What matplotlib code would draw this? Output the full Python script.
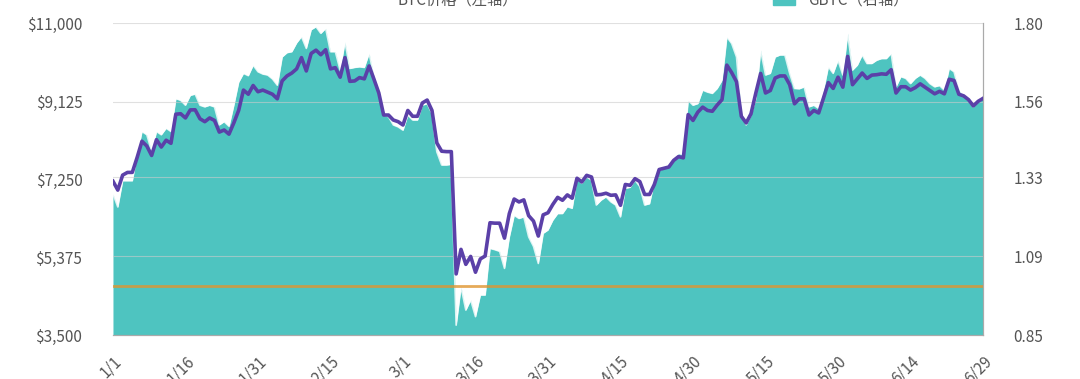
import matplotlib
matplotlib.use("Agg")
import matplotlib.pyplot as plt

plt.rcParams['font.family'] = ['Noto Sans CJK SC', 'DejaVu Sans']

# x axis: days since 1/1, ticks every 15 days
tick_labels = ['1/1', '1/16', '1/31', '2/15', '3/1', '3/16', '3/31',
               '4/15', '4/30', '5/15', '5/30', '6/14', '6/29']

# purple line, left axis ($)
price = [
    # Jan
    7200, 6985, 7345, 7410, 7411, 7770, 8160, 8045, 7818, 8197, 8020, 8184, 8110, 8810, 8821, 8720,
    8913, 8916, 8700, 8630, 8720, 8660, 8380, 8430, 8330, 8600, 8900, 9390, 9290, 9500, 9350,
    # Feb
    9390, 9340, 9290, 9180, 9610, 9730, 9800, 9900, 10170, 9850, 10270, 10350, 10240, 10360, 9900,
    9930, 9700, 10170, 9600, 9610, 9690, 9660, 9970, 9650, 9320, 8790, 8790, 8670, 8630,
    # Mar
    8550, 8900, 8760, 8760, 9080, 9150, 8900, 8120, 7920, 7910, 7910, 4970, 5560, 5200, 5390, 5010,
    5330, 5400, 6200, 6190, 6190, 5830, 6420, 6770, 6700, 6750, 6370, 6240, 5880, 6390, 6440,
    # Apr
    6640, 6810, 6740, 6870, 6790, 7270, 7180, 7340, 7300, 6870, 6880, 6910, 6860, 6870, 6620,
    7120, 7100, 7260, 7190, 6880, 6880, 7120, 7480, 7510, 7540, 7700, 7790, 7760, 8800, 8660,
    # May
    8860, 8980, 8900, 8880, 9030, 9160, 9990, 9810, 9590, 8760, 8600, 8820, 9320, 9790, 9320, 9380,
    9680, 9730, 9730, 9520, 9060, 9180, 9180, 8790, 8900, 8840, 9200, 9570, 9430, 9700, 9460,
    # Jun
    10200, 9520, 9660, 9800, 9670, 9750, 9760, 9780, 9770, 9880, 9320, 9470, 9470, 9390, 9450,
    9540, 9460, 9380, 9300, 9360, 9300, 9650, 9620, 9290, 9250, 9160, 9010, 9120, 9190,
]

# teal area, right axis
ratio = [
    # Jan
    1.28, 1.24, 1.32, 1.32, 1.32, 1.40, 1.47, 1.46, 1.41, 1.47, 1.46, 1.48, 1.47, 1.57, 1.565, 1.55,
    1.58, 1.584, 1.55, 1.545, 1.55, 1.545, 1.49, 1.50, 1.486, 1.55, 1.62, 1.647, 1.64, 1.672, 1.652,
    # Feb
    1.645, 1.642, 1.63, 1.611, 1.697, 1.71, 1.713, 1.74, 1.759, 1.723, 1.78, 1.789, 1.769, 1.784, 1.713,
    1.713, 1.657, 1.743, 1.662, 1.665, 1.667, 1.665, 1.708, 1.637, 1.596, 1.52, 1.515, 1.49, 1.484,
    # Mar
    1.474, 1.52, 1.505, 1.505, 1.55, 1.555, 1.525, 1.408, 1.368, 1.368, 1.37, 0.88, 0.997, 0.926, 0.957, 0.906,
    0.972, 0.972, 1.114, 1.11, 1.105, 1.053, 1.149, 1.215, 1.205, 1.21, 1.149, 1.12, 1.068, 1.16, 1.17,
    # Apr
    1.20, 1.22, 1.22, 1.241, 1.236, 1.327, 1.312, 1.332, 1.322, 1.246, 1.261, 1.271, 1.256, 1.246, 1.21,
    1.297, 1.30, 1.322, 1.302, 1.246, 1.25, 1.317, 1.352, 1.357, 1.373, 1.388, 1.403, 1.40, 1.565, 1.55,
    # May
    1.555, 1.596, 1.59, 1.586, 1.601, 1.626, 1.758, 1.738, 1.697, 1.525, 1.49, 1.52, 1.571, 1.718, 1.642, 1.647,
    1.697, 1.703, 1.703, 1.647, 1.601, 1.60, 1.606, 1.545, 1.55, 1.54, 1.596, 1.667, 1.647, 1.687, 1.642,
    # Jun
    1.769, 1.657, 1.672, 1.703, 1.677, 1.677, 1.687, 1.692, 1.692, 1.708, 1.606, 1.637, 1.632, 1.616, 1.632,
    1.642, 1.632, 1.616, 1.606, 1.61, 1.596, 1.662, 1.652, 1.596, 1.581, 1.565, 1.545, 1.56, 1.57,
]

baseline = 1.0
left_ticks = [3500, 5375, 7250, 9125, 11000]
right_ticks = [0.85, 1.09, 1.33, 1.56, 1.80]
legend_labels = ['BTC价格（左轴）', 'GBTC（右轴）']

TEAL = '#4EC4C0'
PURPLE = '#5B40A8'
ORANGE = '#E0952E'
GREY = '#555555'

days = list(range(len(price)))

fig = plt.figure(figsize=(10.8, 3.79), dpi=100)
ax = fig.add_axes([0.1046, 0.116, 0.8056, 0.823])   # teal / right scale
ax2 = ax.twinx()                                      # price / left scale

ax.fill_between(days, right_ticks[0], ratio, color=TEAL, lw=0, zorder=1)
ax.plot(days, ratio, color='white', lw=1.2, alpha=0.8, zorder=2)
ax.axhline(baseline, color=ORANGE, lw=2, alpha=0.8, zorder=3)

ax2.plot(days, price, color=PURPLE, lw=2.6, zorder=4, solid_joinstyle='round')

ax.set_xlim(0, 180)
ax.set_ylim(right_ticks[0], right_ticks[-1])
ax2.set_ylim(left_ticks[0], left_ticks[-1])

# put the price scale on the left, the ratio scale on the right
ax.yaxis.tick_right()
ax2.yaxis.tick_left()
ax.set_yticks(right_ticks)
ax.set_yticklabels([f'{v:.2f}' for v in right_ticks])
ax2.set_yticks(left_ticks)
ax2.set_yticklabels([f'${v:,.0f}' for v in left_ticks])

ax.set_xticks(range(0, 181, 15))
ax.set_xticklabels(tick_labels, rotation=45, ha='right', rotation_mode='anchor')

for a in (ax, ax2):
    a.tick_params(axis='both', length=0, labelsize=11, colors=GREY)
    a.tick_params(axis='y', pad=22)
    a.tick_params(axis='x', pad=13)
    for s in ('top', 'left'):
        a.spines[s].set_visible(False)
    a.spines['right'].set_color('#aaaaaa')
    a.spines['bottom'].set_color('#aaaaaa')

# horizontal grid lines at the shared tick positions
for v in right_ticks[1:]:
    ax.axhline(v, color='#cccccc', lw=0.8, alpha=0.6, zorder=2.5)

# legend, mostly above the top edge of the figure
fig.lines.append(plt.Line2D([0.337, 0.360], [1.012, 1.012], color=PURPLE, lw=2.6,
                            transform=fig.transFigure))
fig.text(0.368, 1.0, legend_labels[0], fontsize=11, color=GREY, va='center', ha='left')
fig.patches.append(plt.Rectangle((0.716, 0.987), 0.020, 0.03, color=TEAL,
                                 transform=fig.transFigure))
fig.text(0.748, 1.0, legend_labels[1], fontsize=11, color=GREY, va='center', ha='left')

fig.savefig('out.png', dpi=100)
